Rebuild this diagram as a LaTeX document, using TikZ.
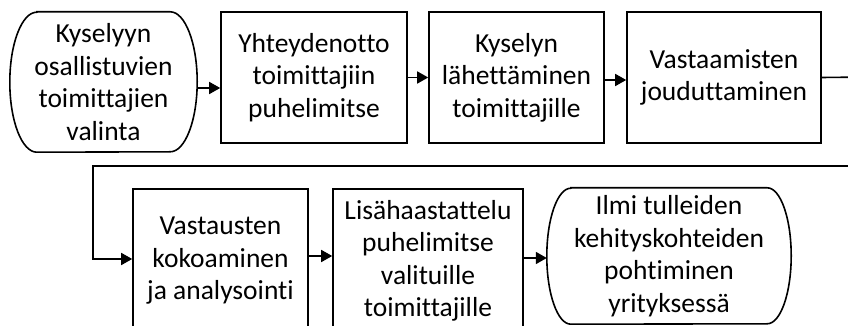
\documentclass[tikz,border=0pt]{standalone}
\usepackage{fontspec}
\setmainfont[Ligatures=NoCommon]{Carlito}
\usetikzlibrary{arrows.meta}
\tikzset{
  box/.style={draw, line width=1.6pt, rectangle, inner sep=0pt, align=center},
  termbox/.style={inner sep=0pt, align=center},
  termline/.style={line width=1.6pt},
  arr/.style={line width=1.6pt, -{Triangle[length=11pt,width=12pt]}},
  conn/.style={line width=1.6pt}
}
\begin{document}
\begin{tikzpicture}[x=1pt,y=1pt,font=\fontsize{27.5}{32.5}\selectfont]
\useasboundingbox (0,0) rectangle (848,326);
\clip (0,0) rectangle (848,326);
% row 1
\node[termbox, minimum width=187pt, minimum height=140pt] (n1) at (103.5,244) {Kyselyyn\\osallistuvien\\toimittajien\\valinta};
\draw[termline] ([xshift=27pt]n1.north west) -- ([xshift=-27pt]n1.north east)
  arc[start angle=90,end angle=-90,x radius=27pt,y radius=70pt]
  -- ([xshift=27pt]n1.south west)
  arc[start angle=270,end angle=90,x radius=27pt,y radius=70pt] -- cycle;
\node[box, minimum width=186pt, minimum height=131pt] (n2) at (314,248.5) {Yhteydenotto\\toimittajiin\\puhelimitse};
\node[box, minimum width=175pt, minimum height=131pt] (n3) at (516.5,248.5) {Kyselyn\\lähettäminen\\toimittajille};
\node[box, minimum width=194pt, minimum height=131pt] (n4) at (724,248.5) {Vastaamisten\\jouduttaminen};
% row 2
\node[box, minimum width=175pt, minimum height=144pt] (n5) at (220.5,65) {Vastausten\\kokoaminen\\ja analysointi};
\node[box, minimum width=190pt, minimum height=144pt] (n6) at (428,65) {Lisähaastattelu\\puhelimitse\\valituille\\toimittajille};
\node[termbox, minimum width=244pt, minimum height=136pt] (n7) at (669,70) {Ilmi tulleiden\\kehityskohteiden\\pohtiminen\\yrityksessä};
\draw[termline] ([xshift=24pt]n7.north west) -- ([xshift=-24pt]n7.north east)
  arc[start angle=90,end angle=-90,x radius=24pt,y radius=68pt]
  -- ([xshift=24pt]n7.south west)
  arc[start angle=270,end angle=90,x radius=24pt,y radius=68pt] -- cycle;
% connectors
\draw[arr] ([yshift=-6pt]n1.east) -- ([yshift=-6pt]n1.east -| n2.west);
\draw[arr] (n2.east) -- (n3.west);
\draw[arr] ([yshift=-2.5pt]n3.east) -- ([yshift=-2.5pt]n3.east -| n4.west);
\coordinate (r1) at (870,249);
\coordinate (r2) at (870,160);
\coordinate (l1) at (93,160);
\draw[arr] (n4.east) -- (r1) -- (r2) -- (l1) |- ([yshift=2pt]n5.west);
\draw[arr] ([yshift=5pt]n5.east) -- ([yshift=5pt]n5.east -| n6.west);
\draw[arr] ([yshift=3pt]n6.east) -- ([yshift=3pt]n6.east -| n7.west);
\end{tikzpicture}
\end{document}
